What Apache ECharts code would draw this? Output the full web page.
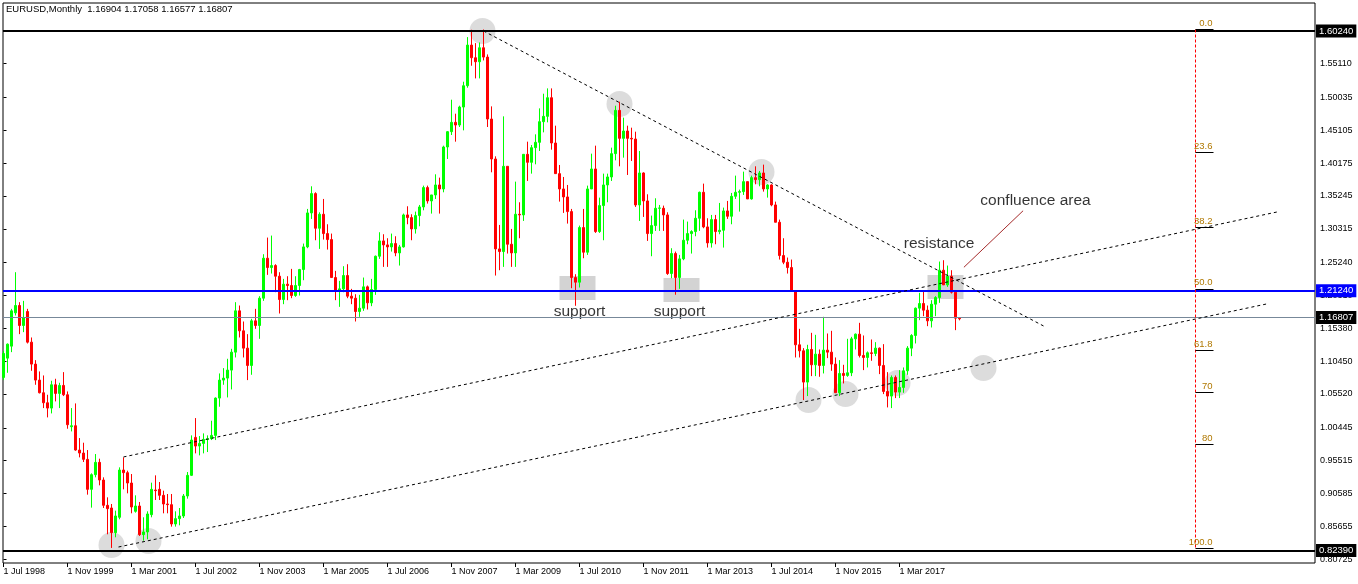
<!DOCTYPE html>
<html><head><meta charset="utf-8">
<script src="https://cdn.jsdelivr.net/npm/echarts@6/dist/echarts.min.js"></script>
<style>html,body{margin:0;padding:0;background:#fff}#c{width:1358px;height:584px}</style>
</head><body><div id="c"></div>
<script>
// ---------- data ----------
const symbolName = 'EURUSD';
const timeframe = 'Monthly';

const opens = [
1.0800,1.1090,1.1270,1.1770,1.1880,1.1580,
1.1790,1.1330,1.1000,1.0760,1.0570,1.0420,1.0340,1.0690,1.0560,1.0680,1.0540,1.0060,
1.0075,0.9710,0.9665,0.9570,0.9120,0.9340,0.9525,0.9260,0.8880,0.8840,0.8470,0.8700,
0.9410,0.9370,0.9215,0.8790,0.8870,0.8440,0.8480,0.8740,0.9110,0.9120,0.9030,0.8900,
0.8890,0.8600,0.8680,0.8720,0.9020,0.9330,0.9900,0.9770,0.9810,0.9870,0.9880,0.9930,
1.0490,1.0760,1.0790,1.0910,1.1180,1.1800,1.1500,1.1240,1.0980,1.1650,1.1580,1.1990,
1.2590,1.2450,1.2480,1.2320,1.1970,1.2200,1.2180,1.2030,1.2180,1.2420,1.2760,1.3270,
1.3560,1.3040,1.3250,1.2960,1.2870,1.2300,1.2100,1.2130,1.2330,1.2020,1.1990,1.1790,
1.1840,1.2160,1.1920,1.2120,1.2620,1.2850,1.2790,1.2760,1.2810,1.2670,1.2760,1.3240,
1.3200,1.3030,1.3230,1.3360,1.3650,1.3450,1.3540,1.3690,1.3630,1.4260,1.4490,1.4630,
1.4590,1.4860,1.5180,1.5790,1.5600,1.5540,1.5750,1.5610,1.4680,1.4080,1.2730,1.2690,
1.3970,1.2800,1.2670,1.3250,1.3240,1.4150,1.4030,1.4250,1.4330,1.4640,1.4720,1.5000,
1.4320,1.3860,1.3630,1.3510,1.3290,1.2300,1.2230,1.3050,1.2680,1.3630,1.3930,1.2990,
1.3380,1.3690,1.3810,1.4160,1.4810,1.4390,1.4500,1.4390,1.4380,1.3390,1.3870,1.3450,
1.2960,1.3080,1.3340,1.3340,1.3240,1.2360,1.2660,1.2300,1.2580,1.2860,1.2960,1.2990,
1.3190,1.3580,1.3060,1.2820,1.3170,1.2990,1.3010,1.3300,1.3220,1.3520,1.3580,1.3590,
1.3740,1.3480,1.3800,1.3770,1.3870,1.3630,1.3690,1.3390,1.3130,1.2630,1.2530,1.2450,
1.2100,1.1290,1.1200,1.0730,1.1220,1.0990,1.1150,1.0980,1.1210,1.1180,1.1000,1.0570,
1.0860,1.0830,1.0870,1.1380,1.1450,1.1130,1.1100,1.1170,1.1160,1.1240,1.0980,1.0590,
1.0520,1.0800,1.0580,1.0650,1.0900,1.1240,1.1430,1.1840,1.1910,1.1810,1.1650,1.1900,
1.2000,1.2410,1.2190,1.2320,1.2080,1.16904
];
const highs = [
1.1200,1.1310,1.1830,1.2380,1.1930,1.1950,
1.1830,1.1400,1.1060,1.0890,1.0830,1.0540,1.0750,1.0780,1.0720,1.0880,1.0590,1.0340,
1.0410,0.9890,0.9820,0.9710,0.9360,0.9650,0.9580,0.9300,0.9000,0.8900,0.8800,0.9450,
0.9600,0.9400,0.9350,0.9030,0.8930,0.8700,0.8790,0.9220,0.9330,0.9230,0.9100,0.9050,
0.9050,0.8790,0.8840,0.9050,0.9380,0.9930,1.0190,0.9920,0.9960,0.9930,1.0150,1.0500,
1.0860,1.0940,1.1080,1.1230,1.1930,1.1880,1.1640,1.1450,1.1680,1.1830,1.2020,1.2650,
1.2900,1.2930,1.2500,1.2380,1.2280,1.2320,1.2430,1.2320,1.2430,1.2810,1.3330,1.3670,
1.3580,1.3280,1.3480,1.3100,1.2960,1.2400,1.2250,1.2470,1.2500,1.2130,1.2050,1.2040,
1.2300,1.2180,1.2280,1.2630,1.2980,1.2950,1.2890,1.2960,1.2920,1.2790,1.3260,1.3370,
1.3250,1.3290,1.3390,1.3680,1.3680,1.3530,1.3850,1.3800,1.4280,1.4500,1.4970,1.4760,
1.4880,1.5240,1.5910,1.6020,1.5820,1.5830,1.6024,1.5650,1.4870,1.4120,1.3090,1.4720,
1.3970,1.3030,1.3740,1.3430,1.4150,1.4340,1.4290,1.4450,1.4840,1.5060,1.5140,1.5140,
1.4580,1.3990,1.3810,1.3690,1.3330,1.2350,1.3080,1.3330,1.3680,1.4160,1.4280,1.3500,
1.3860,1.3860,1.4250,1.4880,1.4940,1.4700,1.4580,1.4550,1.4490,1.4200,1.3880,1.3550,
1.3230,1.3490,1.3390,1.3380,1.3280,1.2740,1.2690,1.2640,1.3170,1.3140,1.3010,1.3310,
1.3590,1.3710,1.3190,1.3240,1.3240,1.3420,1.3350,1.3450,1.3570,1.3830,1.3620,1.3890,
1.3740,1.3830,1.3970,1.3900,1.3995,1.3700,1.3700,1.3440,1.3170,1.2890,1.2600,1.2570,
1.2100,1.1530,1.1240,1.1290,1.1470,1.1440,1.1220,1.1710,1.1460,1.1500,1.1100,1.1060,
1.0990,1.1380,1.1410,1.1460,1.1620,1.1430,1.1190,1.1370,1.1330,1.1250,1.1300,1.0880,
1.0830,1.0830,1.0910,1.0950,1.1270,1.1450,1.1850,1.2070,1.2090,1.1880,1.1960,1.2020,
1.2540,1.2560,1.2480,1.2410,1.2100,1.17058
];
const lows = [
1.0760,1.0870,1.1180,1.1730,1.1450,1.1480,
1.1310,1.0900,1.0690,1.0560,1.0340,1.0200,1.0260,1.0440,1.0340,1.0520,1.0030,0.9990,
0.9700,0.9600,0.9530,0.9040,0.8845,0.9300,0.9180,0.8840,0.8445,0.8240,0.8400,0.8670,
0.9120,0.9060,0.8760,0.8770,0.8420,0.8350,0.8370,0.8700,0.8960,0.8960,0.8760,0.8760,
0.8560,0.8560,0.8580,0.8690,0.8980,0.9320,0.9660,0.9630,0.9660,0.9680,0.9860,0.9860,
1.0360,1.0690,1.0500,1.0620,1.1100,1.1400,1.1100,1.0760,1.0840,1.1530,1.1380,1.1950,
1.2340,1.2360,1.2080,1.1760,1.1900,1.1960,1.1990,1.2010,1.2030,1.2260,1.2740,1.3180,
1.2860,1.2730,1.2870,1.2720,1.2300,1.1960,1.1860,1.2080,1.1990,1.1900,1.1640,1.1710,
1.1800,1.1820,1.1870,1.2040,1.2580,1.2460,1.2460,1.2690,1.2620,1.2480,1.2750,1.3100,
1.2860,1.2960,1.3070,1.3310,1.3410,1.3260,1.3480,1.3260,1.3580,1.4080,1.4440,1.4340,
1.4560,1.4510,1.5150,1.5480,1.5290,1.5290,1.5560,1.4560,1.3880,1.2330,1.2410,1.2460,
1.2660,1.2460,1.2460,1.2890,1.3150,1.3750,1.3860,1.4000,1.4200,1.4480,1.4630,1.4220,
1.3860,1.3440,1.3270,1.3110,1.2140,1.1876,1.2150,1.2590,1.2640,1.3640,1.2970,1.2970,
1.2860,1.3430,1.3750,1.4060,1.3970,1.4100,1.3840,1.4050,1.3360,1.3150,1.3210,1.2850,
1.2620,1.3000,1.3000,1.3000,1.2340,1.2290,1.2042,1.2130,1.2560,1.2800,1.2660,1.2920,
1.3000,1.3040,1.2750,1.2750,1.2800,1.2950,1.2750,1.3180,1.3100,1.3480,1.3290,1.3540,
1.3480,1.3470,1.3700,1.3670,1.3590,1.3500,1.3370,1.3130,1.2570,1.2500,1.2360,1.2100,
1.1100,1.1100,1.0460,1.0520,1.0820,1.0820,1.0810,1.0860,1.1090,1.0900,1.0570,1.0520,
1.0710,1.0810,1.0820,1.1220,1.1100,1.0910,1.0950,1.1050,1.1120,1.0850,1.0550,1.0350,
1.0340,1.0490,1.0490,1.0570,1.0840,1.1120,1.1310,1.1660,1.1720,1.1570,1.1550,1.1720,
1.1920,1.2210,1.2160,1.2060,1.1510,1.16577
];
const closes = [
1.1160,1.1300,1.1800,1.1880,1.1580,1.1700,
1.1330,1.1000,1.0760,1.0570,1.0420,1.0340,1.0690,1.0560,1.0680,1.0540,1.0090,1.0075,
0.9710,0.9665,0.9570,0.9120,0.9340,0.9525,0.9260,0.8880,0.8830,0.8470,0.8720,0.9410,
0.9370,0.9215,0.8855,0.8870,0.8440,0.8480,0.8750,0.9120,0.9100,0.9030,0.8900,0.8890,
0.8600,0.8680,0.8720,0.9020,0.9330,0.9860,0.9770,0.9810,0.9870,0.9880,0.9930,1.0490,
1.0760,1.0790,1.0910,1.1180,1.1800,1.1500,1.1240,1.0980,1.1650,1.1580,1.1990,1.2590,
1.2450,1.2480,1.2320,1.1970,1.2200,1.2180,1.2030,1.2180,1.2420,1.2760,1.3270,1.3560,
1.3040,1.3250,1.2960,1.2870,1.2300,1.2100,1.2130,1.2330,1.2020,1.1990,1.1790,1.1840,
1.2160,1.1920,1.2120,1.2620,1.2850,1.2790,1.2760,1.2810,1.2670,1.2760,1.3240,1.3200,
1.3030,1.3230,1.3360,1.3650,1.3450,1.3540,1.3690,1.3630,1.4260,1.4490,1.4630,1.4590,
1.4860,1.5180,1.5790,1.5600,1.5540,1.5750,1.5610,1.4680,1.4080,1.2730,1.2690,1.3970,
1.2800,1.2670,1.3250,1.3240,1.4150,1.4030,1.4250,1.4330,1.4640,1.4720,1.5000,1.4320,
1.3860,1.3630,1.3510,1.3290,1.2300,1.2230,1.3050,1.2680,1.3630,1.3930,1.2990,1.3380,
1.3690,1.3810,1.4160,1.4810,1.4390,1.4500,1.4390,1.4380,1.3390,1.3870,1.3450,1.2960,
1.3080,1.3340,1.3345,1.3240,1.2360,1.2660,1.2300,1.2580,1.2860,1.2960,1.2990,1.3190,
1.3580,1.3060,1.2820,1.3170,1.2990,1.3010,1.3300,1.3220,1.3520,1.3580,1.3590,1.3740,
1.3480,1.3800,1.3770,1.3870,1.3630,1.3690,1.3390,1.3130,1.2630,1.2530,1.2450,1.2100,
1.1290,1.1200,1.0730,1.1220,1.0990,1.1150,1.0980,1.1210,1.1180,1.1000,1.0570,1.0860,
1.0830,1.0870,1.1380,1.1450,1.1130,1.1100,1.1170,1.1160,1.1240,1.0980,1.0590,1.0520,
1.0800,1.0580,1.0650,1.0900,1.1240,1.1430,1.1840,1.1910,1.1810,1.1650,1.1900,1.2000,
1.2410,1.2190,1.2320,1.2080,1.1690,1.16807
];

const xTickIdx = [0,16,32,48,64,80,96,112,128,144,160,176,192,208,224];
const xTickLabels = ['1 Jul 1998','1 Nov 1999','1 Mar 2001','1 Jul 2002','1 Nov 2003','1 Mar 2005','1 Jul 2006','1 Nov 2007','1 Mar 2009','1 Jul 2010','1 Nov 2011','1 Mar 2013','1 Jul 2014','1 Nov 2015','1 Mar 2017'];
const yTickValues = [1.55110,1.50035,1.45105,1.40175,1.35245,1.30315,1.25240,1.20310,1.15380,1.10450,1.05520,1.00445,0.95515,0.90585,0.85655,0.80725];

const topLevel = 1.60240;
const bottomLevel = 0.82390;
const blueLevel = 1.21240;
const bidLevel = 1.16807;

const fibIndex = 298;
const fibHigh = 1.60240, fibLow = 0.82390;
const fibRatios = [0, 23.6, 38.2, 50, 61.8, 70, 80, 100];
const fibLabels = ['0.0','23.6','38.2','50.0','61.8','70','80','100.0'];

const trendDown = [[120, 1.6002], [260, 1.1573]];
const trendUpper = [[30, 0.9606], [318.75, 1.3289]];
const trendLower = [[28.75, 0.8254], [315.75, 1.1903]];
const pointerLine = [[254.9, 1.3303], [240.1, 1.2454]];

const circles = [[119.75,1.6002],[154,1.4906],[189.5,1.3885],[27,0.8284],[36.25,0.8344],[201.25,1.0461],[210.5,1.0552],[223.5,1.0717],[245,1.0942]];
const boxes = [[[139,1.2323],[148,1.1963]], [[165,1.2293],[174,1.1933]], [[231,1.2338],[240,1.1978]]];
const notes = [[144,1.1783,'support'],[169,1.1783,'support'],[233.9,1.2804,'resistance'],[258,1.3449,'confluence area']];

// ---------- chart ----------
const FONT = 'Liberation Sans';
const last = opens.length - 1;
const f5 = v => v.toFixed(5);
const candles = opens.map((o, i) => [i, o, closes[i], lows[i], highs[i]]);

const tag = (txt, bg) => ({show: true, position: 'end', formatter: txt, backgroundColor: bg, color: '#fff',
  padding: [2, 3, 1, 3], fontSize: 9.5, fontFamily: FONT, distance: 1});

const markLines = [
  {yAxis: topLevel, lineStyle: {color: '#000', width: 2, type: 'solid'}, label: tag(f5(topLevel), '#000')},
  {yAxis: bottomLevel, lineStyle: {color: '#000', width: 2, type: 'solid'}, label: tag(f5(bottomLevel), '#000')},
  {yAxis: blueLevel, lineStyle: {color: '#0000ff', width: 2, type: 'solid'}, label: tag(f5(blueLevel), '#0000ff')},
  {yAxis: bidLevel, lineStyle: {color: '#778899', width: 1, type: 'solid'}, label: tag(f5(bidLevel), '#000')},
  [{coord: [fibIndex, fibHigh], lineStyle: {color: '#ff0000', width: 1, type: [3, 2], opacity: 1}}, {coord: [fibIndex, fibLow]}]
];
fibRatios.forEach((r, k) => {
  const p = fibHigh - (fibHigh - fibLow) * r / 100;
  markLines.push([{coord: [fibIndex, p], lineStyle: {color: '#000', width: 1, type: 'solid'},
    label: {show: true, position: 'insideEndTop', formatter: fibLabels[k], color: '#b07800', fontSize: 9.5, fontFamily: FONT, distance: 1}},
    {coord: [fibIndex + 4.5, p]}]);
});
[trendDown, trendUpper, trendLower].forEach(t => {
  markLines.push([{coord: t[0], lineStyle: {color: '#000', width: 1, type: [3, 3]}}, {coord: t[1]}]);
});
markLines.push([{coord: pointerLine[0], lineStyle: {color: '#a52a2a', width: 1, type: 'solid'}}, {coord: pointerLine[1]}]);

const option = {
  animation: false,
  backgroundColor: '#fff',
  title: {
    text: `${symbolName},${timeframe}  ${f5(opens[last])} ${f5(highs[last])} ${f5(lows[last])} ${f5(closes[last])}`,
    left: 6, top: 4, padding: 0,
    textStyle: {fontSize: 9.5, fontWeight: 'normal', color: '#000', fontFamily: FONT}
  },
  grid: {left: 3, top: 3, right: 43, bottom: 21, containLabel: false, show: true, borderColor: '#000', borderWidth: 1, backgroundColor: '#fff'},
  xAxis: {
    type: 'value', min: -0.125, max: 327.875,
    axisLine: {show: false}, splitLine: {show: false},
    axisTick: {show: true, customValues: xTickIdx, length: 4, lineStyle: {color: '#000'}},
    axisLabel: {customValues: xTickIdx, formatter: v => xTickLabels[xTickIdx.indexOf(Math.round(v))] || '',
      align: 'left', margin: 4, fontSize: 9, color: '#000', fontFamily: FONT}
  },
  yAxis: {
    type: 'value', position: 'right', min: 0.8014, max: 1.6422, scale: true,
    axisLine: {show: false}, splitLine: {show: false},
    axisTick: {show: true, customValues: yTickValues, length: 3, lineStyle: {color: '#000'}},
    axisLabel: {customValues: yTickValues, formatter: v => f5(v), margin: 5, fontSize: 9, color: '#000', fontFamily: FONT}
  },
  series: [
    {
      type: 'scatter', z: 1, silent: true, data: circles, symbolSize: 26,
      itemStyle: {color: '#d3d3d3'},
      markArea: {silent: true, itemStyle: {color: '#d3d3d3'},
        data: boxes.map(b => [{coord: b[0]}, {coord: b[1]}])}
    },
    {
      type: 'candlestick', z: 2, silent: true, data: candles, barWidth: 2,
      encode: {x: 0, y: [1, 2, 3, 4]},
      itemStyle: {color: '#00ff00', color0: '#ff0000', borderColor: '#00ff00', borderColor0: '#ff0000', borderWidth: 1}
    },
    {
      type: 'line', z: 3, silent: true, data: [],
      markLine: {silent: true, symbol: ['none', 'none'], animation: false, label: {show: false}, data: markLines}
    },
    {
      type: 'scatter', z: 4, silent: true, data: notes, symbolSize: 2,
      itemStyle: {color: 'rgba(0,0,0,0)'},
      label: {show: true, position: 'inside', formatter: p => p.data[2], fontSize: 15.5, color: '#000', fontFamily: FONT}
    }
  ]
};
const chart = echarts.init(document.getElementById('c'));
chart.setOption(option);
</script>
</body></html>
